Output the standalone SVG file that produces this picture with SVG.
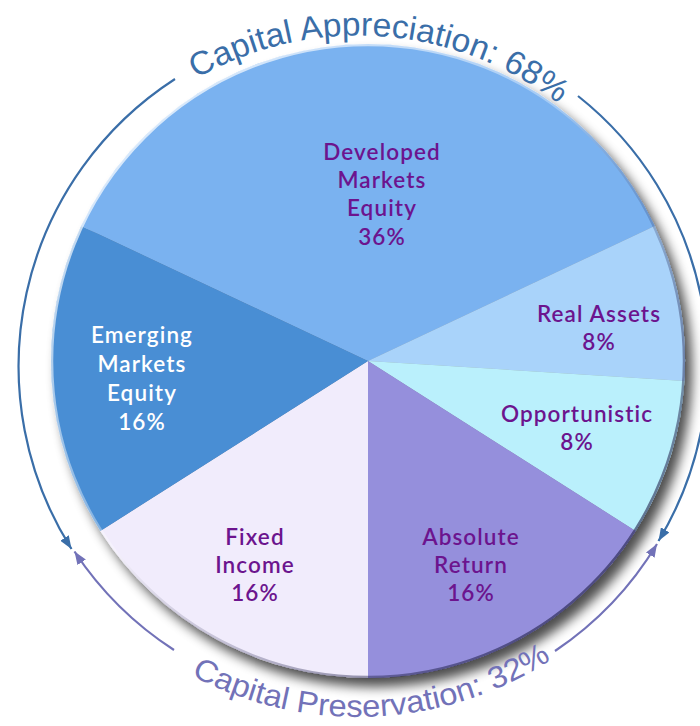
<svg xmlns="http://www.w3.org/2000/svg" width="700" height="726" viewBox="0 0 700 726">
  <style>
    .lbl { font-family: "Lato", "Open Sans", "DejaVu Sans", sans-serif; font-size: 22.5px; font-weight: 600; letter-spacing: 1.1px; fill: #6c148e; text-anchor: middle; }
    .lbl.white { fill: #ffffff; }
    .arcA { fill: none; stroke: #3a6ea8; stroke-width: 2.2; }
    .arcP { fill: none; stroke: #7272b8; stroke-width: 2.2; }
    .ttlA { font-family: "Liberation Sans", Arial, sans-serif; font-size: 33px; fill: #3a6ea8; }
    .ttlP { font-family: "Liberation Sans", Arial, sans-serif; font-size: 31px; fill: #7272b8; }
  </style>
  <defs>
    <filter id="shadow" x="-10%" y="-10%" width="125%" height="125%">
      <feGaussianBlur in="SourceAlpha" stdDeviation="6"/>
      <feOffset dx="7" dy="9" result="b"/>
      <feComponentTransfer><feFuncA type="linear" slope="0.7"/></feComponentTransfer>
      <feMerge><feMergeNode/><feMergeNode in="SourceGraphic"/></feMerge>
    </filter>
    <linearGradient id="rim" x1="0" y1="0" x2="1" y2="1">
      <stop offset="0" stop-color="#ffffff" stop-opacity="0.9"/>
      <stop offset="0.45" stop-color="#ffffff" stop-opacity="0.3"/>
      <stop offset="0.6" stop-color="#20204a" stop-opacity="0.2"/>
      <stop offset="1" stop-color="#20204a" stop-opacity="0.85"/>
    </linearGradient>
    <marker id="headA" markerUnits="userSpaceOnUse" markerWidth="14" markerHeight="10" refX="13" refY="5" orient="auto">
      <path d="M0,0 L13,5 L0,10 Z" fill="#3a6ea8"/>
    </marker>
    <marker id="headP" markerUnits="userSpaceOnUse" markerWidth="14" markerHeight="10" refX="13" refY="5" orient="auto">
      <path d="M0,0 L13,5 L0,10 Z" fill="#7272b8"/>
    </marker>
    <path id="pathTop" d="M154.5,106.9 A327,327 0 0 1 596.0,137.9"/>
    <path id="pathBot" d="M129.8,633.9 A355,355 0 0 0 609,613"/>
  </defs>

  <g id="pie" filter="url(#shadow)">
    <g id="developed">
      <path d="M368,361 L81.2,226 A317,317 0 0 1 654.8,226 Z" fill="#7ab2f0"/>
    </g>
    <g id="real-assets">
      <path d="M368,361 L654.8,226 A317,317 0 0 1 684.4,380.9 Z" fill="#a9d3fa"/>
    </g>
    <g id="opportunistic">
      <path d="M368,361 L684.4,380.9 A317,317 0 0 1 635.6,530.9 Z" fill="#baf0fc"/>
    </g>
    <g id="absolute-return">
      <path d="M368,361 L635.6,530.9 A317,317 0 0 1 368,678 Z" fill="#958fdc"/>
    </g>
    <g id="fixed-income">
      <path d="M368,361 L368,678 A317,317 0 0 1 100.4,530.9 Z" fill="#f1ecfc"/>
    </g>
    <g id="emerging">
      <path d="M368,361 L100.4,530.9 A317,317 0 0 1 81.2,226 Z" fill="#4a8ed4"/>
    </g>
  </g>
  <circle cx="368" cy="361" r="316" fill="none" stroke="url(#rim)" stroke-width="2.5"/>

  <g id="labels">
    <text class="lbl" x="382" y="160">Developed</text>
    <text class="lbl" x="382" y="188">Markets</text>
    <text class="lbl" x="382" y="216">Equity</text>
    <text class="lbl" x="382" y="245">36%</text>

    <text class="lbl" x="599" y="322">Real Assets</text>
    <text class="lbl" x="599" y="350">8%</text>

    <text class="lbl" x="577" y="422">Opportunistic</text>
    <text class="lbl" x="577" y="450">8%</text>

    <text class="lbl" x="471" y="545">Absolute</text>
    <text class="lbl" x="471" y="573">Return</text>
    <text class="lbl" x="471" y="601">16%</text>

    <text class="lbl" x="255" y="545">Fixed</text>
    <text class="lbl" x="255" y="573">Income</text>
    <text class="lbl" x="255" y="601">16%</text>

    <text class="lbl white" x="142" y="343">Emerging</text>
    <text class="lbl white" x="142" y="372">Markets</text>
    <text class="lbl white" x="142" y="401">Equity</text>
    <text class="lbl white" x="142" y="430">16%</text>
  </g>

  <g id="connectors">
    <path class="arcA" d="M175,79 A342,342 0 0 0 71.5,549" marker-end="url(#headA)"/>
    <path class="arcA" d="M578,96 A342,342 0 0 1 658.5,541" marker-end="url(#headA)"/>
    <path class="arcP" d="M174,650 A342,342 0 0 1 74.5,551.5" marker-end="url(#headP)"/>
    <path class="arcP" d="M555,651 A342,342 0 0 0 657,544" marker-end="url(#headP)"/>
  </g>

  <g id="titles">
    <text class="ttlA"><textPath href="#pathTop" startOffset="50%" text-anchor="middle" textLength="385" lengthAdjust="spacingAndGlyphs">Capital Appreciation: 68%</textPath></text>
    <text class="ttlP"><textPath href="#pathBot" startOffset="50%" text-anchor="middle" textLength="378" lengthAdjust="spacingAndGlyphs">Capital Preservation: 32%</textPath></text>
  </g>
</svg>
